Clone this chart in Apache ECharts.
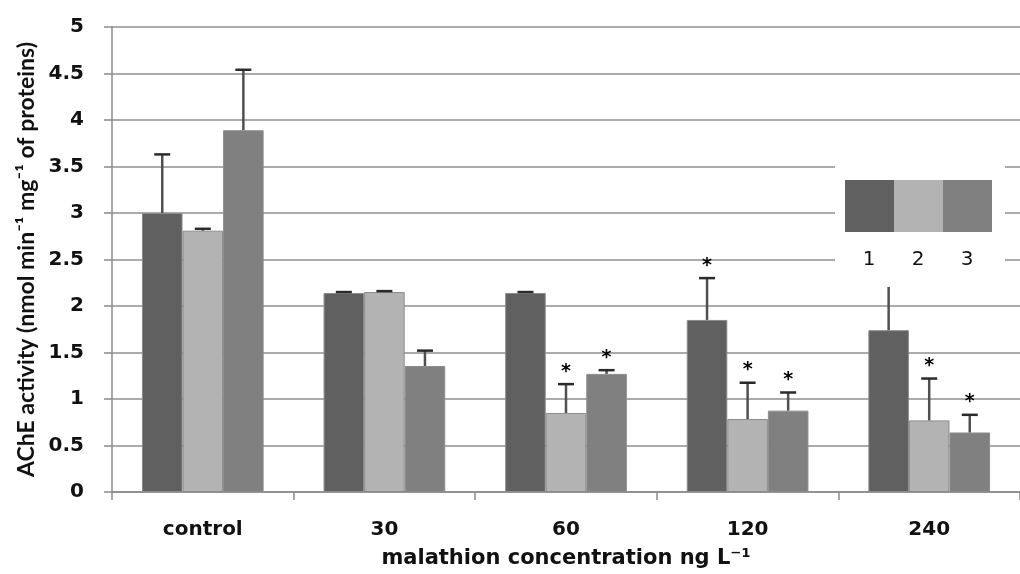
<!DOCTYPE html>
<html>
<head>
<meta charset="utf-8">
<script src="https://cdn.jsdelivr.net/npm/echarts@6/dist/echarts.min.js"></script>
<style>
  html, body { margin: 0; padding: 0; background: #fff; }
  #chart { width: 1020px; height: 574px; }
</style>
</head>
<body>
<div id="chart"></div>
<script>
// doses (x categories)
const categories = ['control', '30', '60', '120', '240'];
const groupNames = ['1', '2', '3'];
const groupColors = ['#606060', '#b3b3b3', '#808080'];

// mean AChE activity per group
const group1 = [3.0, 2.14, 2.14, 1.85, 1.74];
const group2 = [2.81, 2.15, 0.85, 0.785, 0.77];
const group3 = [3.89, 1.355, 1.27, 0.875, 0.64];

// upper error (SD)
const err1 = [0.63, 0.01, 0.01, 0.45, 0.6];
const err2 = [0.02, 0.01, 0.31, 0.39, 0.45];
const err3 = [0.65, 0.165, 0.04, 0.195, 0.19];

// significance marks (*)
const star1 = [0, 0, 0, 1, 1];
const star2 = [0, 0, 1, 1, 1];
const star3 = [0, 0, 1, 1, 1];

const yTicks = [0, 0.5, 1, 1.5, 2, 2.5, 3, 3.5, 4, 4.5, 5];

const means = [group1, group2, group3];
const errs = [err1, err2, err3];
const stars = [star1, star2, star3];
const gapRatio = 0.33;

const chart = echarts.init(document.getElementById('chart'));

function errorSeries(k) {
  return {
    type: 'custom',
    z: 5,
    data: means[k].map((v, i) => [i, v, errs[k][i], stars[k][i]]),
    renderItem: function (params, api) {
      const idx = api.value(0);
      const v = api.value(1);
      const e = api.value(2);
      const bandW = api.size([1, 0])[0];
      const barW = bandW * (1 - gapRatio) / 3;
      const base = api.coord([idx, v]);
      const top = api.coord([idx, v + e]);
      const cx = base[0] + (k - 1) * barW;
      const children = [
        { type: 'line', shape: { x1: cx, y1: base[1], x2: cx, y2: top[1] },
          style: { stroke: '#505050', lineWidth: 2.5 } },
        { type: 'line', shape: { x1: cx - 8, y1: top[1], x2: cx + 8, y2: top[1] },
          style: { stroke: '#2a2a2a', lineWidth: 2.5 } }
      ];
      if (api.value(3)) {
        children.push({ type: 'text', style: {
          text: '*', x: cx, y: top[1] - 3, align: 'center', verticalAlign: 'bottom',
          fill: '#000', font: 'bold 19px "DejaVu Sans"' } });
      }
      return { type: 'group', children: children };
    }
  };
}

const barSeries = means.map((d, k) => ({
  name: groupNames[k],
  type: 'bar',
  data: d,
  barGap: '0%',
  barCategoryGap: (gapRatio * 100) + '%',
  itemStyle: { color: groupColors[k], borderColor: '#8c8c8c', borderWidth: 1 },
  animation: false
}));

chart.setOption({
  animation: false,
  grid: { left: 112, top: 27, width: 920, height: 465 },
  xAxis: {
    type: 'category',
    data: categories,
    name: 'malathion concentration ng L\u207B\u00B9',
    nameLocation: 'middle',
    nameGap: 56,
    nameTextStyle: { fontFamily: 'DejaVu Sans', fontWeight: 'bold', fontSize: 21, color: '#111' },
    axisLine: { lineStyle: { color: '#8a8a8a', width: 1.5 } },
    axisTick: { show: true, length: 8, lineStyle: { color: '#8a8a8a', width: 1.5 } },
    axisLabel: { margin: 28, fontFamily: 'DejaVu Sans', fontWeight: 'bold', fontSize: 20, color: '#111' }
  },
  yAxis: {
    type: 'value',
    min: yTicks[0],
    max: yTicks[yTicks.length - 1],
    interval: 0.5,
    name: 'AChE activity (nmol min\u207B\u00B9 mg\u207B\u00B9 of proteins)',
    nameLocation: 'middle',
    nameGap: 72,
    nameTextStyle: { fontFamily: 'Lato', fontWeight: 'bold', fontSize: 23, color: '#111' },
    axisLine: { show: true, lineStyle: { color: '#8a8a8a', width: 1.5 } },
    axisTick: { show: true, length: 8, lineStyle: { color: '#8a8a8a', width: 1.5 } },
    axisLabel: { margin: 28, fontFamily: 'DejaVu Sans', fontWeight: 'bold', fontSize: 20, color: '#111' },
    splitLine: { lineStyle: { color: '#8f8f8f', width: 1.5 } }
  },
  graphic: [
    { type: 'rect', z: 100, shape: { x: 835, y: 165, width: 170, height: 122 }, style: { fill: '#fff' } },
    { type: 'rect', z: 101, shape: { x: 845, y: 180, width: 49, height: 52 }, style: { fill: groupColors[0] } },
    { type: 'rect', z: 101, shape: { x: 894, y: 180, width: 49, height: 52 }, style: { fill: groupColors[1] } },
    { type: 'rect', z: 101, shape: { x: 943, y: 180, width: 49, height: 52 }, style: { fill: groupColors[2] } },
    { type: 'text', z: 101, style: { text: groupNames[0], x: 869, y: 260, align: 'center', verticalAlign: 'middle', font: '20px "DejaVu Sans"', fill: '#111' } },
    { type: 'text', z: 101, style: { text: groupNames[1], x: 918, y: 260, align: 'center', verticalAlign: 'middle', font: '20px "DejaVu Sans"', fill: '#111' } },
    { type: 'text', z: 101, style: { text: groupNames[2], x: 967, y: 260, align: 'center', verticalAlign: 'middle', font: '20px "DejaVu Sans"', fill: '#111' } }
  ],
  series: barSeries.concat([errorSeries(0), errorSeries(1), errorSeries(2)])
});
</script>
</body>
</html>
